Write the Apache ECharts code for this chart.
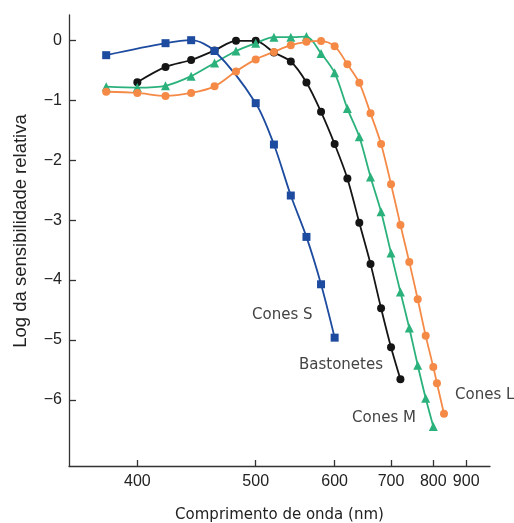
<!DOCTYPE html>
<html>
<head>
<meta charset="utf-8">
<script src="https://cdn.jsdelivr.net/npm/echarts@6/dist/echarts.min.js"></script>
<style>
  html, body { margin: 0; padding: 0; background: #fff; }
  #chart { width: 514px; height: 523px; }
</style>
</head>
<body>
<div id="chart"></div>
<script>
// comprimento de onda (nm) e log da sensibilidade relativa
const sLambda = [380, 420, 440, 460, 500, 520, 540, 560, 580, 600]
const sLog = [-0.25, -0.05, 0, -0.18, -1.05, -1.74, -2.59, -3.28, -4.07, -4.96]

const rodLambda = [400, 420, 440, 460, 480, 500, 520, 540, 560, 580, 600, 620, 640, 660, 680, 700, 720]
const rodLog = [-0.70, -0.445, -0.33, -0.17, -0.01, -0.01, -0.205, -0.355, -0.705, -1.195, -1.733, -2.305, -3.045, -3.73, -4.47, -5.12, -5.655]

const mLambda = [380, 400, 420, 440, 460, 480, 500, 520, 540, 560, 580, 600, 620, 640, 660, 680, 700, 720, 740, 760, 780, 800]
const mLog = [-0.775, -0.79, -0.76, -0.60, -0.38, -0.18, -0.05, 0.05, 0.05, 0.06, -0.22, -0.545, -1.14, -1.61, -2.28, -2.86, -3.55, -4.20, -4.80, -5.42, -5.97, -6.44]

const lLambda = [380, 400, 420, 440, 460, 480, 500, 520, 540, 560, 580, 600, 620, 640, 660, 680, 700, 720, 740, 760, 780, 800, 810, 830]
const lLog = [-0.86, -0.88, -0.93, -0.88, -0.77, -0.52, -0.32, -0.195, -0.083, -0.028, -0.012, -0.10, -0.40, -0.71, -1.22, -1.73, -2.40, -3.08, -3.70, -4.32, -4.93, -5.45, -5.72, -6.23]

const xTickNm = [400, 500, 600, 700, 800, 900]
const yTicks = [-6, -5, -4, -3, -2, -1, 0]

// eixo x em escala de número de onda (1/λ)
const toWave = nm => 1e4 / nm
const pairs = (xs, ys) => xs.map((x, i) => [toWave(x), ys[i]])

const chart = echarts.init(document.getElementById('chart'))

const axisColor = '#333'
const tickFont = { fontFamily: 'Liberation Sans', fontSize: 16, color: '#222' }
const annFont = { fontFamily: 'DejaVu Sans', fontSize: 15, fill: '#444' }

function lineSeries(name, data, color, symbol, size) {
  return {
    name,
    type: 'line',
    data,
    smooth: 0.3,
    symbol,
    symbolSize: size,
    showSymbol: true,
    lineStyle: { color, width: 1.8 },
    itemStyle: { color },
    emphasis: { disabled: true }
  }
}

chart.setOption({
  animation: false,
  grid: { left: 69, right: 24, top: 15, bottom: 57, outerBoundsMode: 'none' },
  xAxis: {
    type: 'value',
    inverse: true,
    min: toWave(989.6),
    max: toWave(358.6),
    name: 'Comprimento de onda (nm)',
    nameLocation: 'middle',
    nameGap: 42,
    nameTextStyle: { fontFamily: 'DejaVu Sans', fontSize: 15, color: '#222' },
    axisLine: { onZero: false, lineStyle: { color: axisColor, width: 1.3 } },
    axisTick: {
      show: true,
      inside: true,
      length: 6,
      customValues: xTickNm.map(toWave),
      lineStyle: { color: axisColor, width: 1.3 }
    },
    axisLabel: {
      ...tickFont,
      margin: 8,
      customValues: xTickNm.map(toWave),
      formatter: v => String(Math.round(1e4 / v))
    },
    splitLine: { show: false }
  },
  yAxis: {
    type: 'value',
    min: -7.1,
    max: 0.42,
    name: 'Log da sensibilidade relativa',
    nameLocation: 'middle',
    nameGap: 39,
    nameTextStyle: { fontFamily: 'Liberation Sans', fontSize: 18.5, color: '#222', padding: [0, 0, 0, 19] },
    axisLine: { show: true, onZero: false, lineStyle: { color: axisColor, width: 1.3 } },
    axisTick: {
      show: true,
      inside: true,
      length: 7,
      customValues: yTicks,
      lineStyle: { color: axisColor, width: 1.3 }
    },
    axisLabel: {
      ...tickFont,
      margin: 7,
      customValues: yTicks,
      formatter: v => (v < 0 ? '\u2212' + Math.abs(v) : String(v))
    },
    splitLine: { show: false }
  },
  series: [
    lineSeries('Bastonetes', pairs(rodLambda, rodLog), '#151515', 'circle', 8),
    lineSeries('Cones M', pairs(mLambda, mLog), '#2bb17b', 'triangle', 9),
    lineSeries('Cones S', pairs(sLambda, sLog), '#1d4b9f', 'rect', 8),
    lineSeries('Cones L', pairs(lLambda, lLog), '#f58a47', 'circle', 8)
  ],
  graphic: [
    { type: 'text', left: 252, top: 308, style: { text: 'Cones S', ...annFont } },
    { type: 'text', left: 299, top: 358, style: { text: 'Bastonetes', ...annFont } },
    { type: 'text', left: 352, top: 411, style: { text: 'Cones M', ...annFont } },
    { type: 'text', left: 455, top: 388, style: { text: 'Cones L', ...annFont } }
  ]
})
</script>
</body>
</html>
